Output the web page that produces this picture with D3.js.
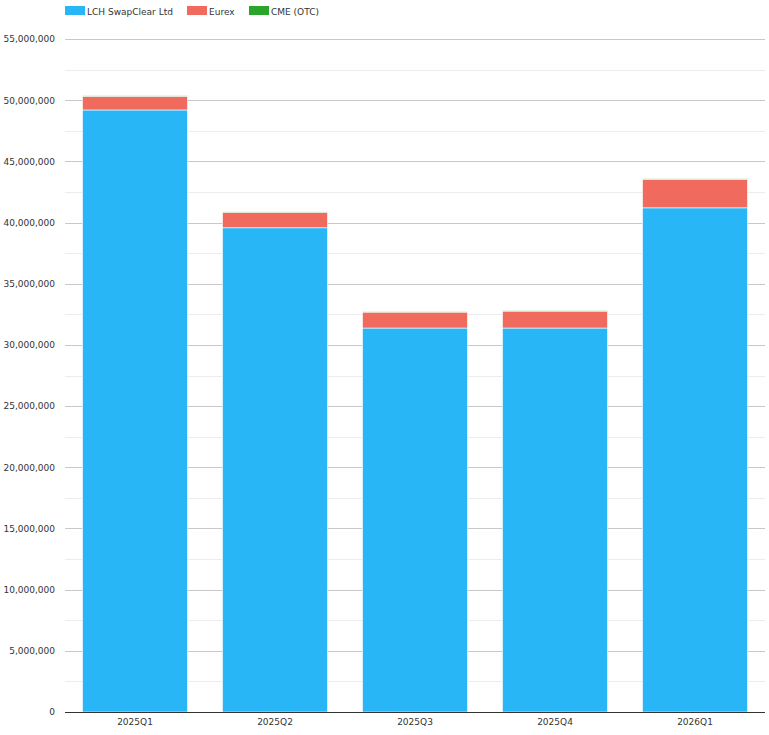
<!DOCTYPE html>
<html><head><meta charset="utf-8">
<script src="https://cdn.jsdelivr.net/npm/d3@7"></script>
<style>body{margin:0;background:#fff;} text{font-family:"DejaVu Sans",Verdana,sans-serif;}</style>
</head><body><svg id="c" width="769" height="735"></svg>
<script>
const categories = ["2025Q1","2025Q2","2025Q3","2025Q4","2026Q1"];
const seriesNames = ["LCH SwapClear Ltd","Eurex","CME (OTC)"];
const seriesColors = ["#29b6f6","#f06b5e","#2aa52a"];
const lch = [49200000, 39570000, 31380000, 31380000, 41200000];
const eurex = [1120000, 1270000, 1300000, 1380000, 2330000];
const cme = [40000, 30000, 25000, 35000, 45000];
const yTicks = [0,5000000,10000000,15000000,20000000,25000000,30000000,35000000,40000000,45000000,50000000,55000000];

const svg = d3.select("#c");
const L = 65, R = 765, T = 39, B = 712;
const x = d3.scaleBand().domain(categories).range([L, R]).paddingInner(0.25).paddingOuter(0.125);
const y = d3.scaleLinear().domain([0, 55000000]).range([B, T]);

// minor grid
const minor = d3.range(2500000, 55000000, 5000000);
svg.append("g").selectAll("line").data(minor).join("line")
  .attr("x1", L).attr("x2", R).attr("y1", d => Math.round(y(d))+0.5).attr("y2", d => Math.round(y(d))+0.5)
  .attr("stroke", "#ececec").attr("stroke-width", 1);
// major grid
svg.append("g").selectAll("line").data(yTicks.slice(1)).join("line")
  .attr("x1", L).attr("x2", R).attr("y1", d => Math.round(y(d))+0.5).attr("y2", d => Math.round(y(d))+0.5)
  .attr("stroke", "#c8c8c8").attr("stroke-width", 1);

const yAxis = svg.append("g").attr("transform", `translate(${L},0)`)
  .call(d3.axisLeft(y).tickValues(yTicks).tickFormat(d3.format(",")).tickSize(0).tickPadding(10));
yAxis.select(".domain").remove();
yAxis.selectAll("text").attr("fill", "#333").style("font-size", "9px");

const data = categories.map((c, i) => ({cat: c, "LCH SwapClear Ltd": lch[i], "Eurex": eurex[i], "CME (OTC)": cme[i]}));
const stack = d3.stack().keys(seriesNames)(data);

svg.append("g").selectAll("g").data(stack).join("g")
  .attr("fill", (d, i) => seriesColors[i])
  .selectAll("rect").data(d => d).join("rect")
  .attr("x", d => x(d.data.cat))
  .attr("width", x.bandwidth())
  .attr("y", d => y(d[1]))
  .attr("height", d => Math.max(0, y(d[0]) - y(d[1])))
  .attr("stroke", "#fff").attr("stroke-width", 0.6);

const xAxis = svg.append("g").attr("transform", `translate(0,${B})`)
  .call(d3.axisBottom(x).tickSize(0).tickPadding(7));
xAxis.select(".domain").attr("stroke", "#333").attr("d", `M${L},0.5H${R}`);
xAxis.selectAll("text").attr("fill", "#333").style("font-size", "9px");

// legend
const legX = [65, 187, 249];
const leg = svg.append("g").selectAll("g").data(seriesNames).join("g")
  .attr("transform", (d, i) => `translate(${legX[i]},6)`);
leg.append("rect").attr("width", 20).attr("height", 9).attr("fill", (d, i) => seriesColors[i]);
leg.append("text").attr("x", 22).attr("y", 8.5).text(d => d).attr("fill", "#333").style("font-size", "9px");
</script></body></html>
